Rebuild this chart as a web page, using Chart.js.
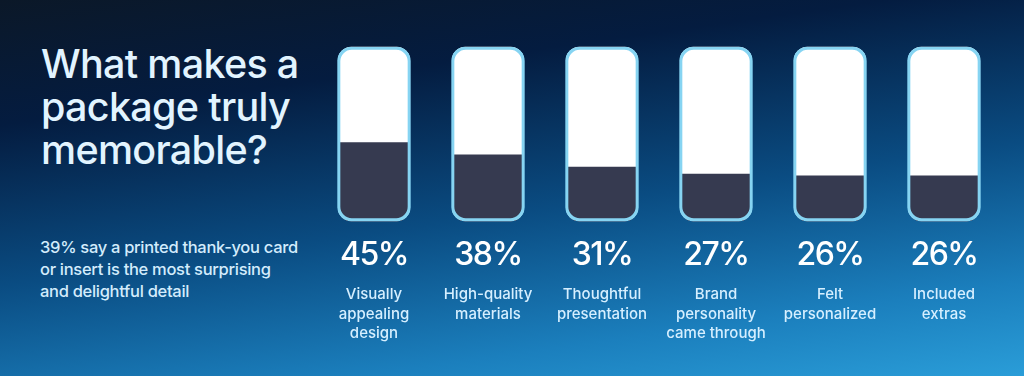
<!DOCTYPE html>
<html>
<head>
<meta charset="utf-8">
<script src="https://cdn.jsdelivr.net/npm/chart.js@4"></script>
<style>
  html, body { margin:0; padding:0; }
  body {
    width:1024px; height:376px; overflow:hidden; position:relative;
    background: linear-gradient(172deg, #0b1828 0%, #041c40 24%, #0a4c82 55%, #1b7fbd 82%, #2a9dd8 100%);
    font-family: Inter, 'Noto Sans', sans-serif;
  }
  #title {
    position:absolute; left:41px; top:43px; margin:0;
    font-size:39.5px; line-height:43px; font-weight:500; letter-spacing:-0.7px;
    color:#e2f4ff;
  }
  #note {
    position:absolute; left:40px; top:236px; margin:0;
    font-size:16.5px; line-height:22px; font-weight:500; letter-spacing:-0.3px;
    color:#d3ecfc;
  }
  #wrap { position:absolute; left:0; top:0; width:1024px; height:376px; }
</style>
</head>
<body>
<h1 id="title">What makes a<br>package truly<br>memorable?</h1>
<p id="note">39% say a printed thank-you card<br>or insert is the most surprising<br>and delightful detail</p>
<div id="wrap"><canvas id="chart"></canvas></div>
<script>
// ---------- Data ----------
const categories = [
  ['Visually', 'appealing', 'design'],
  ['High-quality', 'materials'],
  ['Thoughtful', 'presentation'],
  ['Brand', 'personality', 'came through'],
  ['Felt', 'personalized'],
  ['Included', 'extras']
];
const values = [45, 38, 31, 27, 26, 26];
const full   = [100, 100, 100, 100, 100, 100];   // empty tube = 100%

// ---------- Colors ----------
const cFrame = '#86d4f2';
const cFill  = '#363a50';
const cTube  = '#ffffff';

// percent + category labels under each tube
const labelsPlugin = {
  id: 'tubeLabels',
  afterDatasetsDraw(chart){
    const { ctx, scales:{ x, y } } = chart;
    const base = y.getPixelForValue(0);
    ctx.save();
    ctx.textAlign = 'center';
    ctx.textBaseline = 'alphabetic';
    values.forEach((v, i) => {
      const cx = x.getPixelForValue(i);
      ctx.fillStyle = '#ffffff';
      ctx.font = '500 32px Inter, sans-serif';
      ctx.letterSpacing = '-1.5px';
      ctx.fillText(v + '%', cx, base + 44);
      ctx.fillStyle = '#d6efff';
      ctx.font = '500 15px Inter, sans-serif';
      ctx.letterSpacing = '0px';
      categories[i].forEach((line, k) => ctx.fillText(line, cx, base + 78 + k * 19.5));
    });
    ctx.restore();
  }
};

new Chart(document.getElementById('chart'), {
  type: 'bar',
  data: {
    labels: categories.map(c => c.join(' ')),
    datasets: [
      { label:'frame', data: full, backgroundColor:'rgba(0,0,0,0)', borderColor: cFrame,
        borderWidth: 2.5, borderRadius: 14, borderSkipped: false, barThickness: 73 },
      { label:'share', data: values, backgroundColor: cFill, borderWidth: 0,
        borderRadius: { topLeft:0, topRight:0, bottomLeft:12, bottomRight:12 }, borderSkipped: false, barThickness: 70 },
      { label:'tube', data: full, backgroundColor: cTube, borderWidth: 0,
        borderRadius: 13, borderSkipped: false, barThickness: 71 }
    ]
  },
  options: {
    responsive: true,
    maintainAspectRatio: false,
    animation: false,
    layout: { padding: { left: 317, right: 23, top: 47, bottom: 155 } },
    datasets: { bar: { grouped: false, clip: false } },
    plugins: { legend: { display:false }, tooltip: { enabled:false } },
    scales: {
      x: { display: false },
      y: { display: false, min: 0, max: 100 }
    }
  },
  plugins: [labelsPlugin]
});
</script>
</body>
</html>
